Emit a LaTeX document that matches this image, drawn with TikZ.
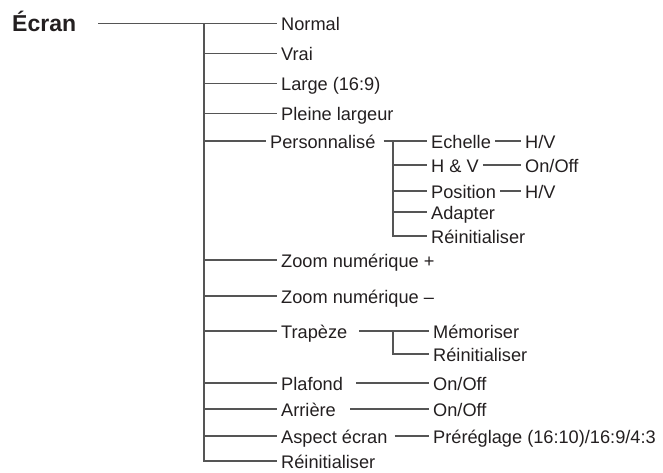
\documentclass[tikz,border=0pt]{standalone}
\usepackage{fontspec}
\setmainfont{Liberation Sans}
\usepackage{tikz}
\usetikzlibrary{positioning}
\definecolor{cLine}{HTML}{555555}
\definecolor{cText}{HTML}{231F20}

\begin{document}
\begin{tikzpicture}[
  x=1pt, y=-1pt,
  item/.style={
    anchor=west, inner xsep=4pt, inner ysep=0pt,
    text height=14pt, text depth=0pt, text=cText,
    font=\fontsize{18.2}{20}\selectfont
  },
  title/.style={
    anchor=west, inner sep=0pt, text height=16.5pt, text depth=0pt,
    text=cText, font=\fontsize{23}{26}\selectfont\bfseries
  },
  branch/.style={draw=cLine, line width=1.1pt},
]
\useasboundingbox (0,0) rectangle (663,472);
% Title
\node[title] (ecran) at (12,23.5) {Écran};
% Main entries
\node[item] (normal)  at (277,23.5) {Normal};
\node[item] (vrai)    at (277,53.3) {Vrai};
\node[item] (large)   at (277,83.3) {Large (16:9)};
\node[item] (pleine)  at (277,113.5) {Pleine largeur};
\node[item] (perso)   at (266,141) {Personnalisé};
\node[item] (zoomp)   at (277,260) {Zoom numérique +};
\node[item] (zoomm)   at (277,296) {Zoom numérique –};
\node[item] (trap)    at (277,331) {Trapèze};
\node[item] (plafond) at (277,383) {Plafond};
\node[item] (arriere) at (277,409) {Arrière};
\node[item] (aspect)  at (277,436) {Aspect écran};
\node[item] (reinit)  at (277,461) {Réinitialiser};
% Personnalisé entries
\node[item] (echelle)  at (427,141) {Echelle};
\node[item] (hv)       at (427,165) {H \& V};
\node[item] (position) at (427,191) {Position};
\node[item] (adapter)  at (427,212) {Adapter};
\node[item] (reinitP)  at (427,236) {Réinitialiser};
\node[item] (echelleHV) at (521,141) {H/V};
\node[item] (hvOnOff)   at (521,165) {On/Off};
\node[item] (posHV)     at (521,191) {H/V};
% Trapèze entries
\node[item] (memo)    at (429,331) {Mémoriser};
\node[item] (reinitT) at (429,354) {Réinitialiser};
% Settings
\node[item] (plafondOn) at (429,383) {On/Off};
\node[item] (arriereOn) at (429,409) {On/Off};
\node[item] (preset)    at (429,436) {Préréglage (16:10)/16:9/4:3};
% Trunks
\coordinate (trunk)      at (204,23.5);
\coordinate (persoTrunk) at (393,141);
\coordinate (trapTrunk)  at (393,331);
% Main tree
\draw[branch] ([xshift=22pt]ecran.east) -- (normal.west);
\draw[branch] (trunk) |- (reinit.west);
\foreach \n in {vrai,large,pleine,perso,zoomp,zoomm,trap,plafond,arriere,aspect}
  \draw[branch] (trunk |- \n.west) -- (\n.west);
% Personnalisé
\draw[branch] ([xshift=4pt]perso.east) -- (echelle.west);
\draw[branch] (persoTrunk) |- (reinitP.west);
\foreach \n in {hv,position,adapter}
  \draw[branch] (persoTrunk |- \n.west) -- (\n.west);
\draw[branch] (echelle.east) -- (echelleHV.west);
\draw[branch] (hv.east) -- (hvOnOff.west);
\draw[branch] (position.east) -- (posHV.west);
% Trapèze
\draw[branch] ([xshift=8pt]trap.east) -- (memo.west);
\draw[branch] (trapTrunk) |- (reinitT.west);
% On/Off and aspect
\draw[branch] ([xshift=9pt]plafond.east) -- (plafondOn.west);
\draw[branch] ([xshift=10pt]arriere.east) -- (arriereOn.west);
\draw[branch] ([xshift=3pt]aspect.east) -- (preset.west);
\end{tikzpicture}
\end{document}
